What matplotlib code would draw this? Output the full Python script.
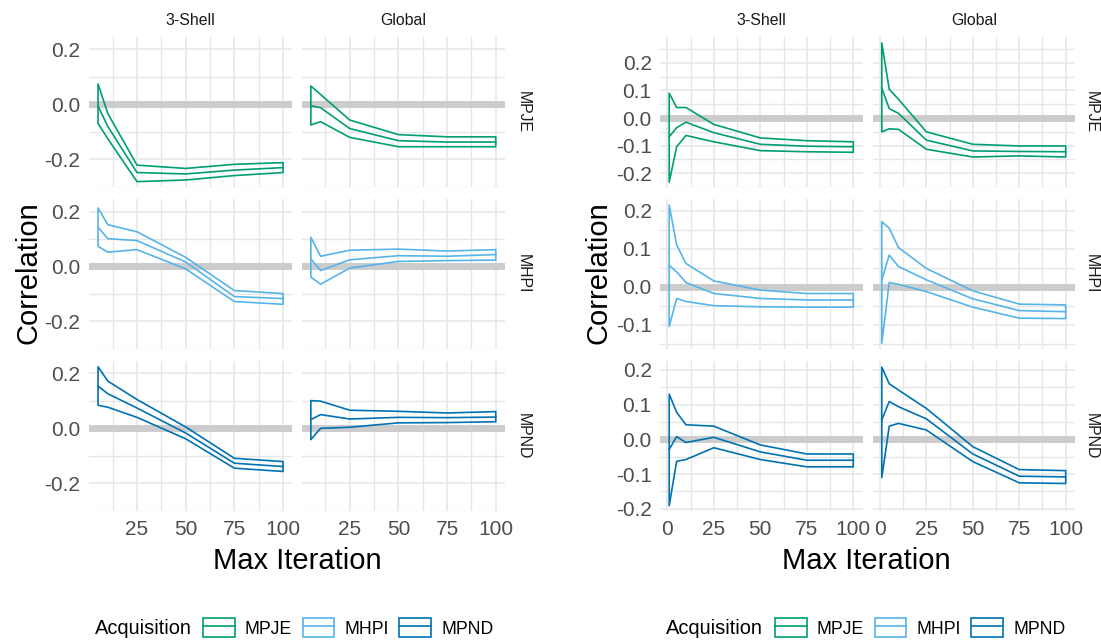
import matplotlib
matplotlib.use("Agg")
import matplotlib.pyplot as plt
from matplotlib.patches import Rectangle
from matplotlib.lines import Line2D

plt.rcParams['font.family'] = ['Liberation Sans', 'DejaVu Sans']

# iterations used in each study
iters_a = [5, 10, 25, 50, 75, 100]
iters_b = [1, 5, 10, 25, 50, 75, 100]

methods = ['MPJE', 'MHPI', 'MPND']
datasets = ['3-Shell', 'Global']
colors = {'MPJE': '#009E73', 'MHPI': '#56B4E9', 'MPND': '#0072B2'}

# (upper, mean, lower) correlation per panel, study A
a_mpje_shell = ([0.074, -0.033, -0.221, -0.233, -0.218, -0.212],
                [-0.006, -0.080, -0.248, -0.253, -0.239, -0.230],
                [-0.069, -0.125, -0.281, -0.275, -0.259, -0.248])
a_mpje_global = ([0.067, 0.036, -0.057, -0.110, -0.118, -0.118],
                 [-0.005, -0.012, -0.088, -0.132, -0.137, -0.137],
                 [-0.075, -0.063, -0.120, -0.154, -0.154, -0.154])
a_mhpi_shell = ([0.213, 0.152, 0.126, 0.033, -0.088, -0.099],
                [0.143, 0.101, 0.094, 0.016, -0.110, -0.117],
                [0.073, 0.052, 0.061, -0.009, -0.128, -0.138])
a_mhpi_global = ([0.106, 0.037, 0.059, 0.063, 0.056, 0.061],
                 [0.027, -0.015, 0.024, 0.039, 0.037, 0.043],
                 [-0.039, -0.065, -0.006, 0.018, 0.021, 0.023])
a_mpnd_shell = ([0.224, 0.172, 0.105, 0.005, -0.109, -0.121],
                [0.154, 0.126, 0.074, -0.017, -0.127, -0.139],
                [0.084, 0.077, 0.040, -0.038, -0.145, -0.157])
a_mpnd_global = ([0.101, 0.099, 0.066, 0.062, 0.056, 0.061],
                 [0.032, 0.050, 0.034, 0.040, 0.039, 0.041],
                 [-0.041, 0.000, 0.004, 0.020, 0.021, 0.024])

# (upper, mean, lower) correlation per panel, study B
b_mpje_shell = ([0.090, 0.038, 0.038, -0.023, -0.072, -0.082, -0.086],
                [-0.068, -0.035, -0.015, -0.053, -0.095, -0.102, -0.104],
                [-0.232, -0.104, -0.063, -0.086, -0.118, -0.122, -0.124])
b_mpje_global = ([0.272, 0.104, 0.068, -0.050, -0.095, -0.101, -0.101],
                 [0.108, 0.034, 0.017, -0.080, -0.119, -0.121, -0.122],
                 [-0.050, -0.039, -0.041, -0.113, -0.141, -0.137, -0.141])
b_mhpi_shell = ([0.215, 0.110, 0.061, 0.015, -0.009, -0.018, -0.018],
                [0.056, 0.039, 0.011, -0.018, -0.031, -0.035, -0.035],
                [-0.105, -0.031, -0.039, -0.050, -0.053, -0.054, -0.054])
b_mhpi_global = ([0.171, 0.154, 0.103, 0.048, -0.011, -0.046, -0.048],
                 [0.018, 0.083, 0.053, 0.018, -0.032, -0.063, -0.066],
                 [-0.149, 0.011, 0.006, -0.013, -0.054, -0.083, -0.084])
b_mpnd_shell = ([0.130, 0.078, 0.042, 0.038, -0.016, -0.042, -0.042],
                [-0.029, 0.008, -0.009, 0.006, -0.036, -0.060, -0.060],
                [-0.191, -0.063, -0.058, -0.024, -0.058, -0.079, -0.079])
b_mpnd_global = ([0.208, 0.160, 0.142, 0.089, -0.021, -0.087, -0.090],
                 [0.056, 0.109, 0.094, 0.059, -0.042, -0.106, -0.108],
                 [-0.110, 0.038, 0.046, 0.027, -0.064, -0.125, -0.127])

bands_a = [[a_mpje_shell, a_mpje_global],
           [a_mhpi_shell, a_mhpi_global],
           [a_mpnd_shell, a_mpnd_global]]
bands_b = [[b_mpje_shell, b_mpje_global],
           [b_mhpi_shell, b_mhpi_global],
           [b_mpnd_shell, b_mpnd_global]]

W, H = 1101, 640
fig = plt.figure(figsize=(W / 100, H / 100), dpi=100)
fig.patch.set_facecolor('white')

GRID = '#E6E6E6'
TICK_COL = '#4D4D4D'
TICK_SIZE = 15
ROWS = [(36.5, 187.4), (198.6, 349.3), (360.5, 511.3)]


def px_box(x0, x1, y0, y1):
    return [x0 / W, 1 - y1 / H, (x1 - x0) / W, (y1 - y0) / H]


def draw_grid(x, bands, cols, xlim, xticks, xminor, ylims, yticks, yminor,
              strip_x, ylab_x, xlab_x, legend_x, title_x):
    for r, (y0, y1) in enumerate(ROWS):
        m = methods[r]
        c = colors[m]
        for k, (x0, x1) in enumerate(cols):
            ax = fig.add_axes(px_box(x0, x1, y0, y1))
            ax.set_axisbelow(True)
            ax.axhline(0, color='#CCCCCC', lw=5, zorder=1)
            hi, mid, lo = bands[r][k]
            ax.fill_between(x, lo, hi, facecolor='none', edgecolor=c,
                            lw=1.2, zorder=3)
            ax.plot(x, mid, color=c, lw=1.2, zorder=3)
            ax.set_xlim(*xlim)
            ax.set_ylim(*ylims[r])
            ax.set_xticks(xticks)
            ax.set_xticks(xminor, minor=True)
            ax.set_yticks(yticks[r])
            ax.set_yticks(yminor[r], minor=True)
            ax.grid(which='major', color=GRID, lw=1.1)
            ax.grid(which='minor', color=GRID, lw=1.0)
            for s in ax.spines.values():
                s.set_visible(False)
            ax.tick_params(which='both', length=0, labelsize=TICK_SIZE,
                           labelcolor=TICK_COL, pad=6)
            if k == 0:
                ax.set_yticklabels([f'{v:.1f}' for v in yticks[r]])
            else:
                ax.set_yticklabels([])
            if r == 2:
                ax.set_xticklabels([str(v) for v in xticks])
            else:
                ax.set_xticklabels([])
            if r == 0:
                fig.text((x0 + x1) / 2 / W, 1 - 20.5 / H, datasets[k],
                         ha='center', va='center', size=11.4, color='#1A1A1A')
        fig.text(strip_x / W, 1 - (y0 + y1) / 2 / H, m, rotation=270,
                 ha='center', va='center', size=11.4, color='#1A1A1A')

    fig.text(ylab_x / W, 1 - 273 / H, 'Correlation', rotation=90,
             ha='center', va='center', size=21)
    fig.text(xlab_x / W, 1 - 561 / H, 'Max Iteration',
             ha='center', va='center', size=21)

    handles = [(Rectangle((0, 0), 1, 1, facecolor='none', edgecolor=colors[m], lw=1.2),
                Line2D([], [], color=colors[m], lw=1.2)) for m in methods]
    fig.text(title_x / W, 1 - 628 / H, 'Acquisition', ha='left', va='center',
             size=14.4)
    fig.legend(handles, methods, loc='center left',
               bbox_to_anchor=(legend_x / W, 1 - 628 / H), ncol=3,
               frameon=False, fontsize=12.7, handlelength=1.8,
               handleheight=1.25, handletextpad=0.57, columnspacing=0.6,
               borderpad=0, borderaxespad=0)


# study A: fixed y scale across rows
lim_a = (-0.302, 0.247)
draw_grid(iters_a, bands_a, [(88.8, 292.3), (301.6, 505.0)],
          (0.25, 104.75), [25, 50, 75, 100], [12.5, 37.5, 62.5, 87.5],
          [lim_a] * 3, [[-0.2, 0.0, 0.2]] * 3, [[-0.3, -0.1, 0.1]] * 3,
          strip_x=523, ylab_x=28, xlab_x=297, legend_x=203, title_x=95)

# study B: free y scale per row
draw_grid(iters_b, bands_b, [(660.0, 862.5), (872.6, 1074.9)],
          (-3.95, 104.95), [0, 25, 50, 75, 100], [12.5, 37.5, 62.5, 87.5],
          [(-0.251, 0.295), (-0.165, 0.232), (-0.207, 0.227)],
          [[-0.2, -0.1, 0.0, 0.1, 0.2], [-0.1, 0.0, 0.1, 0.2],
           [-0.2, -0.1, 0.0, 0.1, 0.2]],
          [[-0.25, -0.15, -0.05, 0.05, 0.15, 0.25], [-0.15, -0.05, 0.05, 0.15],
           [-0.15, -0.05, 0.05, 0.15]],
          strip_x=1091, ylab_x=598, xlab_x=866, legend_x=775, title_x=666)

fig.savefig('out.png', dpi=100, facecolor='white')
